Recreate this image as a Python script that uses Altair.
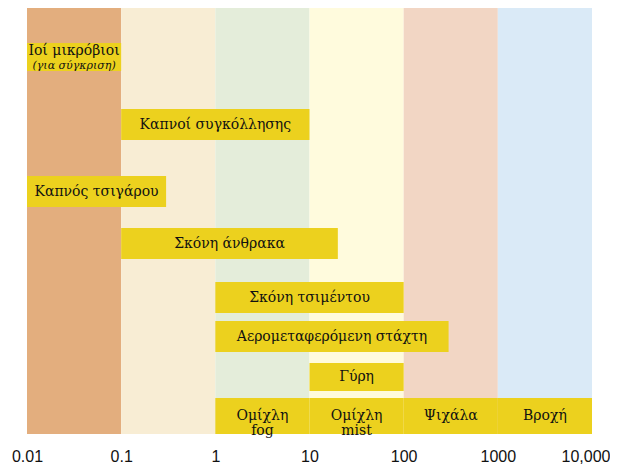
import altair as alt
import pandas as pd

# Background size bands (micrometres)
band_start = [0.01, 0.1, 1, 10, 100, 1000]
band_end = [0.1, 1, 10, 100, 1000, 10000]
band_color = ["#E3AE7E", "#F8EDD4", "#E4EDDA", "#FFFBDD", "#F2D6C4", "#DAEAF7"]

# Particle bars
labels = ["Ιοί μικρόβιοι", "Καπνοί συγκόλλησης", "Καπνός τσιγάρου", "Σκόνη άνθρακα",
          "Σκόνη τσιμέντου", "Αερομεταφερόμενη στάχτη", "Γύρη",
          "Ομίχλη\nfog", "Ομίχλη\nmist", "Ψιχάλα", "Βροχή"]
size_min = [0.01, 0.1, 0.01, 0.1, 1, 1, 10, 1, 10, 100, 1000]
size_max = [0.1, 10, 0.3, 20, 100, 300, 100, 10, 100, 1000, 10000]
row_low = [363, 294, 227, 175, 121, 82, 43, 0, 0, 0, 0]
row_high = [391, 325, 258, 206, 152, 113, 71, 36, 36, 36, 36]

tick_values = [0.01, 0.1, 1, 10, 100, 1000, 10000]

W, H = 565, 426
FONT = "DejaVu Serif"

bands = pd.DataFrame({"x": band_start, "x2": band_end, "c": band_color})
bars = pd.DataFrame({"label": labels, "x": size_min, "x2": size_max,
                     "y": row_low, "y2": row_high})
bars["lines"] = bars["label"].str.split("\n")

xscale = alt.Scale(type="log", domain=[0.01, 10000], nice=False)
yscale = alt.Scale(domain=[0, H], nice=False)

xaxis = alt.Axis(values=tick_values, title=None, grid=False, ticks=False, domain=False,
                 labelFont="Liberation Sans", labelFontSize=16, labelColor="#111",
                 labelPadding=14, labelFlush=False,
                 labelAlign={"expr": "datum.value >= 10000 ? 'right' : 'center'"},
                 labelOffset={"expr": "datum.value >= 10000 ? 18 : 0"},
                 labelExpr="datum.value >= 10000 ? format(datum.value, ',') : format(datum.value, '')")

bg = alt.Chart(bands).mark_rect().encode(
    x=alt.X("x:Q", scale=xscale, axis=xaxis),
    x2="x2:Q",
    y=alt.value(0), y2=alt.value(H),
    color=alt.Color("c:N", scale=None),
)

rects = alt.Chart(bars).mark_rect(color="#ECD11E").encode(
    x=alt.X("x:Q", scale=xscale),
    x2="x2:Q",
    y=alt.Y("y:Q", scale=yscale, axis=None),
    y2="y2:Q",
)

base_text = alt.Chart(bars).transform_calculate(
    xm="sqrt(datum.x * datum.x2)", ym="(datum.y + datum.y2) / 2"
).transform_filter("datum.label != 'Ιοί μικρόβιοι'")

txt = base_text.mark_text(font=FONT, fontSize=14, color="#111", baseline="middle",
                          lineHeight=15).encode(
    x=alt.X("xm:Q", scale=xscale),
    y=alt.Y("ym:Q", scale=yscale),
    text="lines",
)

virus = alt.Chart(bars).transform_filter("datum.label == 'Ιοί μικρόβιοι'").transform_calculate(
    xm="sqrt(datum.x * datum.x2)", ym="(datum.y + datum.y2) / 2"
)
virus1 = virus.mark_text(font=FONT, fontSize=14, color="#111", baseline="middle", dy=-6).encode(
    x=alt.X("xm:Q", scale=xscale), y=alt.Y("ym:Q", scale=yscale), text="label:N")
virus2 = virus.transform_calculate(sub="'(για σύγκριση)'").mark_text(
    font=FONT, fontSize=11, fontStyle="italic", color="#111", baseline="middle", dy=8.5).encode(
    x=alt.X("xm:Q", scale=xscale), y=alt.Y("ym:Q", scale=yscale), text="sub:N")

chart = alt.layer(bg, rects, txt, virus1, virus2).properties(
    width=W, height=H,
    autosize=alt.AutoSizeParams(type="none"),
    padding={"left": 19, "top": 0, "right": 18, "bottom": 30},
).configure_view(stroke=None)

chart.save("out.html", embed_options={"renderer": "svg", "actions": False})
